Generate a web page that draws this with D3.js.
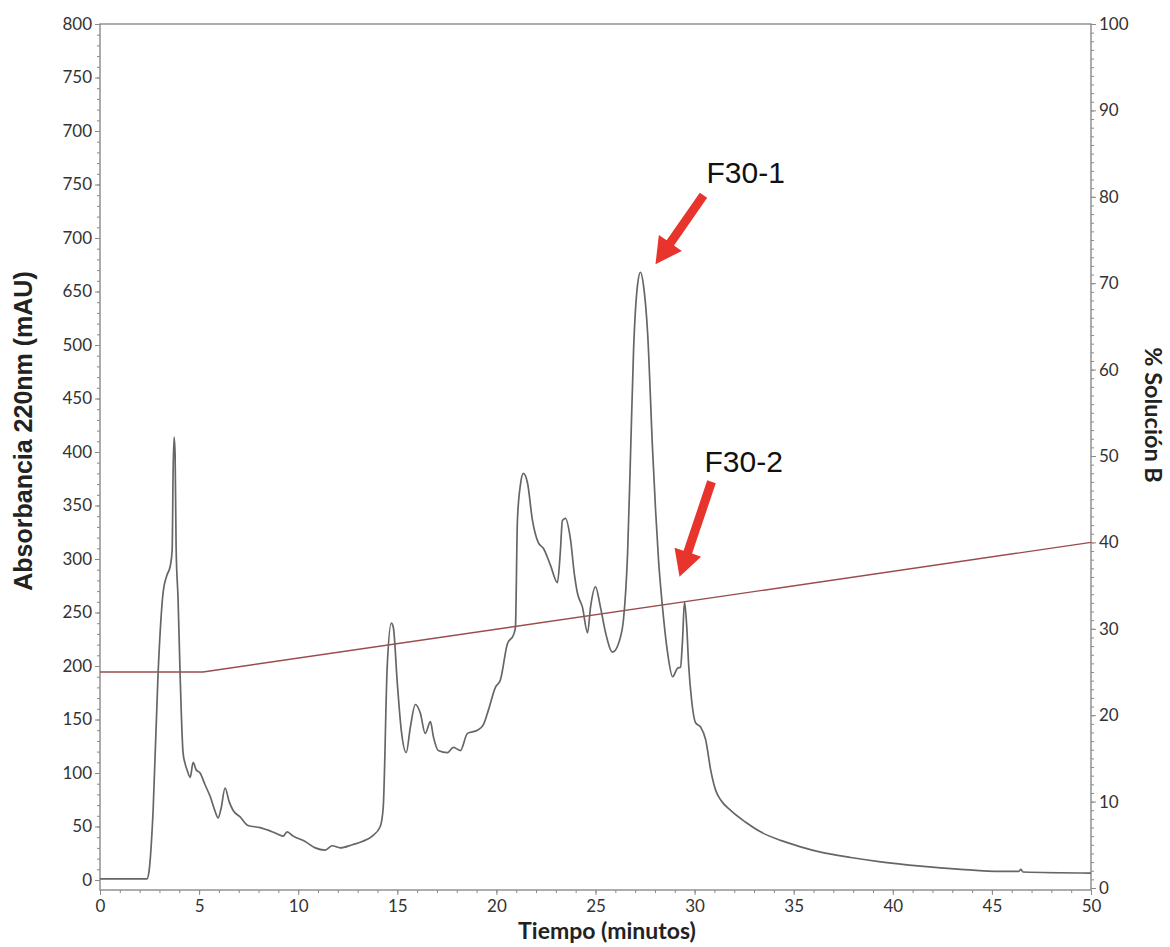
<!DOCTYPE html>
<html>
<head>
<meta charset="utf-8">
<script src="https://cdn.jsdelivr.net/npm/d3@7"></script>
<style>
  html, body { margin: 0; padding: 0; background: #fff; }
  svg { display: block; }
  .tick text { font-family: Lato, "Open Sans", sans-serif; font-size: 17px; fill: #333; }
  .axis .domain { display: none; }
  .axis line { stroke: #8a8a8a; }
</style>
</head>
<body>
<svg id="chart" width="1170" height="947"></svg>
<script>
// Retention time (min) and absorbance at 220 nm (mAU)
const time = [
  0, 2.37, 2.47, 2.68, 2.93, 3.18, 3.38, 3.54, 3.64, 3.69, 3.74, 3.79, 3.84, 3.94, 4.04,
  4.19, 4.29, 4.39, 4.55, 4.70, 4.85, 5.05, 5.30, 5.56, 5.81, 5.96, 6.11, 6.31, 6.52, 6.72,
  7.07, 7.47, 8.08, 8.84, 9.24, 9.44, 9.75, 10.35, 10.86, 11.36, 11.72, 12.12, 12.73, 13.23,
  13.74, 14.14, 14.29, 14.49, 14.70, 14.80, 15.0, 15.2, 15.45, 15.66, 15.91, 16.16, 16.41,
  16.67, 16.82, 17.07, 17.53, 17.83, 18.18, 18.54, 19.04, 19.34, 19.6, 19.95, 20.2, 20.56,
  20.86, 20.96, 21.06, 21.21, 21.36, 21.57, 21.82, 22.12, 22.37, 22.73, 23.08, 23.23, 23.33,
  23.48, 23.74, 23.94, 24.09, 24.34, 24.6, 24.75, 25.0, 25.25, 25.51, 25.86, 26.26, 26.41,
  26.62, 26.77, 26.92, 27.12, 27.27, 27.42, 27.63, 27.88, 28.03, 28.18, 28.38, 28.64, 28.89,
  29.14, 29.29, 29.39, 29.49, 29.6, 29.7, 29.85, 30.05, 30.3, 30.56, 30.81, 31.06, 31.31,
  31.82, 32.58, 33.33, 34.34, 35.35, 36.36, 37.88, 39.39, 41.41, 43.43, 45.45, 46.36, 46.46,
  46.57, 50
];
const absorbance = [
  1, 1, 7.5, 65, 193, 268, 285, 293, 308, 383, 414, 397, 311, 262, 193,
  119, 109, 103, 96, 110, 103, 100, 89, 78, 64, 58, 67, 86, 73, 65,
  59, 51, 49, 44, 41, 45, 41, 36, 30, 28, 32, 30, 33, 36,
  41, 50, 68, 199, 240, 236, 184, 140, 119, 143, 164, 156, 137,
  148, 134, 121, 119, 124, 121, 137, 140, 145, 159, 180, 187, 221,
  229, 236, 336, 369, 380, 371, 336, 315, 310, 294, 278, 308, 336,
  338, 318, 285, 268, 255, 231, 255, 274, 255, 231, 213, 227, 243,
  306, 399, 495, 556, 568, 556, 511, 402, 346, 299, 255, 212, 190,
  198, 199, 224, 260, 238, 201, 168, 147, 143, 131, 103, 84, 75,
  65, 54, 45, 37, 31, 26, 21, 17, 13, 10, 8, 8, 10,
  7.5, 6.5
];

// Gradient program: % of solvent B
const gradientTime = [0, 5.2, 50];
const gradientB = [25, 25, 40];

// Axis ticks
const xTicks = [0, 5, 10, 15, 20, 25, 30, 35, 40, 45, 50];
const yLeftTicks = [0, 50, 100, 150, 200, 250, 300, 350, 400, 450, 500, 550, 600, 650, 700, 750, 800];
const yLeftLabels = ["0", "50", "100", "150", "200", "250", "300", "350", "400", "450", "500",
                     "650", "700", "750", "700", "750", "800"];
const yRightTicks = [0, 10, 20, 30, 40, 50, 60, 70, 80, 90, 100];

// Labelled fractions
const peakNames = ["F30-1", "F30-2"];
const peakTime = [27.27, 29.44];
const peakValue = [568, 260];

const svg = d3.select("#chart");
const plot = { left: 100, right: 1091, top: 24, bottom: 890 };

const x = d3.scaleLinear().domain([0, 50]).range([plot.left, plot.right]);
const yL = d3.scaleLinear().domain([0, 800]).range([880, plot.top]);
const yR = d3.scaleLinear().domain([0, 100]).range([888, plot.top]);

// Frame
svg.append("rect")
  .attr("x", plot.left).attr("y", plot.top)
  .attr("width", plot.right - plot.left).attr("height", plot.bottom - plot.top)
  .attr("fill", "none").attr("stroke", "#8a8a8a").attr("stroke-width", 1.4);

// Minor ticks
svg.append("g").attr("class", "axis").attr("transform", `translate(${plot.left},0)`)
  .call(d3.axisLeft(yL).tickValues(d3.range(0, 801, 10)).tickSize(3).tickFormat(""));
svg.append("g").attr("class", "axis").attr("transform", `translate(${plot.right},0)`)
  .call(d3.axisRight(yR).tickValues(d3.range(0, 101, 1)).tickSize(3).tickFormat(""));
svg.append("g").attr("class", "axis").attr("transform", `translate(0,${plot.bottom})`)
  .call(d3.axisBottom(x).tickValues(d3.range(0, 51, 1)).tickSize(3).tickFormat(""));

// Major ticks with labels
svg.append("g").attr("class", "axis").attr("transform", `translate(${plot.left},0)`)
  .call(d3.axisLeft(yL).tickValues(yLeftTicks).tickSize(5).tickPadding(3)
    .tickFormat((d, i) => yLeftLabels[i]));
svg.append("g").attr("class", "axis").attr("transform", `translate(${plot.right},0)`)
  .call(d3.axisRight(yR).tickValues(yRightTicks).tickSize(5).tickPadding(3));
svg.append("g").attr("class", "axis").attr("transform", `translate(0,${plot.bottom})`)
  .call(d3.axisBottom(x).tickValues(xTicks).tickSize(5).tickPadding(5));

// Gradient line (% B)
svg.append("path")
  .datum(gradientTime.map((t, i) => [t, gradientB[i]]))
  .attr("fill", "none").attr("stroke", "#9b4b4b").attr("stroke-width", 1.4)
  .attr("d", d3.line().x(d => x(d[0])).y(d => yR(d[1])));

// Chromatogram trace
svg.append("path")
  .datum(time.map((t, i) => [t, absorbance[i]]))
  .attr("fill", "none").attr("stroke", "#666").attr("stroke-width", 1.7)
  .attr("stroke-linejoin", "round")
  .attr("d", d3.line().x(d => x(d[0])).y(d => yL(d[1])).curve(d3.curveMonotoneX));

// Axis titles
svg.append("text")
  .attr("transform", `translate(32,431) rotate(-90)`)
  .attr("text-anchor", "middle")
  .style("font-family", "'Liberation Sans', Arial, sans-serif")
  .style("font-weight", "bold").style("font-size", "25px").style("fill", "#222")
  .text("Absorbancia 220nm (mAU)");
svg.append("text")
  .attr("transform", `translate(1145,415) rotate(90)`)
  .attr("text-anchor", "middle")
  .style("font-family", "Lato, sans-serif")
  .style("font-weight", "bold").style("font-size", "23.5px").style("fill", "#222")
  .text("% Solución B");
svg.append("text")
  .attr("x", 607).attr("y", 939)
  .attr("text-anchor", "middle")
  .style("font-family", "Lato, sans-serif")
  .style("font-weight", "bold").style("font-size", "23px").style("fill", "#222")
  .text("Tiempo (minutos)");

// Peak annotations: red arrows pointing at the fractions
const arrowOffsets = [
  { tip: [15, -8], tail: [63, -77], text: [66, -89] },
  { tip: [-4, -25], tail: [28, -120], text: [21, -130] }
];
function arrow(x0, y0, x1, y1) {
  const dx = x1 - x0, dy = y1 - y0, len = Math.hypot(dx, dy);
  const ux = dx / len, uy = dy / len, px = -uy, py = ux;
  const hl = 26, hw = 14, sw = 4.5;
  const bx = x1 - ux * hl, by = y1 - uy * hl;
  const pts = [
    [x0 + px * sw, y0 + py * sw], [bx + px * sw, by + py * sw], [bx + px * hw, by + py * hw],
    [x1, y1], [bx - px * hw, by - py * hw], [bx - px * sw, by - py * sw], [x0 - px * sw, y0 - py * sw]
  ];
  return "M" + pts.map(p => p.join(",")).join("L") + "Z";
}
peakNames.forEach((name, i) => {
  const px = x(peakTime[i]), py = yL(peakValue[i]);
  const o = arrowOffsets[i];
  svg.append("path")
    .attr("d", arrow(px + o.tail[0], py + o.tail[1], px + o.tip[0], py + o.tip[1]))
    .attr("fill", "#e8342c");
  svg.append("text")
    .attr("x", px + o.text[0]).attr("y", py + o.text[1])
    .style("font-family", "'Liberation Sans', Arial, sans-serif")
    .style("font-size", "30px").style("fill", "#111")
    .text(name);
});
</script>
</body>
</html>
